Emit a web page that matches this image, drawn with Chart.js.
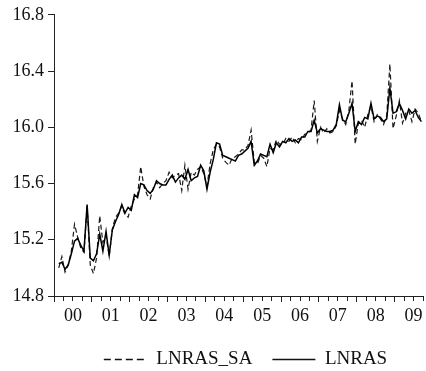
<!DOCTYPE html>
<html>
<head>
<meta charset="utf-8">
<script src="https://cdn.jsdelivr.net/npm/chart.js@4.4.1/dist/chart.umd.min.js"></script>
<style>
  html, body { margin: 0; padding: 0; background: #ffffff; }
  #wrap { width: 426px; height: 371px; position: relative; }
</style>
</head>
<body>
<div id="wrap"><canvas id="c" width="426" height="371"></canvas></div>
<script>
// Monthly observations, first one is 2000M02 (month index 1, counted from 2000M01 = 0)
const startMonthIndex = 1;

const yearLabels = ['00', '01', '02', '03', '04', '05', '06', '07', '08', '09'];

const lnrasSA = [
  15.00, 15.08, 14.97, 15.02, 15.12, 15.31, 15.22, 15.14, 15.11, 15.44,
  15.02, 14.96, 15.07, 15.37, 15.18, 15.23, 15.08, 15.28, 15.36, 15.39,
  15.44, 15.38, 15.36, 15.44, 15.49, 15.52, 15.72, 15.58, 15.52, 15.49,
  15.57, 15.61, 15.57, 15.60, 15.62, 15.68, 15.64, 15.66, 15.67, 15.55,
  15.73, 15.56, 15.68, 15.66, 15.70, 15.72, 15.67, 15.58, 15.74, 15.84,
  15.88, 15.86, 15.78, 15.75, 15.73, 15.78, 15.79, 15.81, 15.84, 15.84,
  15.87, 15.98, 15.75, 15.74, 15.80, 15.78, 15.72, 15.85, 15.84, 15.91,
  15.88, 15.88, 15.92, 15.90, 15.93, 15.89, 15.92, 15.91, 15.95, 15.96,
  15.98, 16.19, 15.90, 16.00, 15.96, 15.99, 15.96, 15.97, 16.01, 16.12,
  16.06, 16.02, 16.12, 16.33, 15.88, 16.03, 16.05, 16.00, 16.09, 16.15,
  16.04, 16.09, 16.06, 16.02, 16.08, 16.45, 15.99, 16.08, 16.19, 16.03,
  16.10, 16.12, 16.04, 16.13, 16.10, 16.04
];

const lnras = [
  15.03, 15.04, 14.99, 15.02, 15.10, 15.19, 15.21, 15.16, 15.12, 15.45,
  15.07, 15.05, 15.10, 15.24, 15.12, 15.26, 15.09, 15.27, 15.33, 15.38,
  15.45, 15.39, 15.43, 15.41, 15.52, 15.50, 15.60, 15.59, 15.55, 15.53,
  15.56, 15.62, 15.60, 15.59, 15.59, 15.63, 15.66, 15.61, 15.64, 15.66,
  15.63, 15.70, 15.62, 15.64, 15.65, 15.73, 15.69, 15.56, 15.68, 15.77,
  15.89, 15.88, 15.80, 15.79, 15.78, 15.77, 15.76, 15.80, 15.81, 15.83,
  15.85, 15.90, 15.73, 15.76, 15.81, 15.80, 15.79, 15.88, 15.82, 15.89,
  15.86, 15.90, 15.89, 15.92, 15.90, 15.91, 15.89, 15.93, 15.93, 15.97,
  15.97, 16.05, 15.96, 15.99, 15.98, 15.97, 15.97, 15.98, 16.02, 16.16,
  16.05, 16.04, 16.10, 16.17, 15.97, 16.04, 16.02, 16.07, 16.06, 16.17,
  16.06, 16.08, 16.07, 16.04, 16.06, 16.28, 16.10, 16.11, 16.17, 16.12,
  16.06, 16.13, 16.10, 16.12, 16.07, 16.04
];

// x value of each observation: middle of its month
function toPoints(values) {
  return values.map((v, k) => ({ x: startMonthIndex + k + 0.5, y: v }));
}

const serif = "'Liberation Serif', 'DejaVu Serif', 'Times New Roman', serif";

// nudges the legend box a little to the right, as in the original layout
const legendNudge = {
  id: 'legendNudge',
  afterLayout(chart) {
    if (chart.legend) {
      chart.legend.left += 7;
      chart.legend.right += 7;
    }
  }
};

new Chart(document.getElementById('c'), {
  type: 'line',
  data: {
    datasets: [
      {
        label: 'LNRAS_SA',
        data: toPoints(lnrasSA),
        borderColor: '#1a1a1a',
        backgroundColor: '#1a1a1a',
        borderWidth: 1.2,
        borderDash: [5, 3],
        pointRadius: 0,
        tension: 0,
        order: 1
      },
      {
        label: 'LNRAS',
        data: toPoints(lnras),
        borderColor: '#000000',
        backgroundColor: '#000000',
        borderWidth: 1.5,
        pointRadius: 0,
        tension: 0,
        order: 0
      }
    ]
  },
  plugins: [legendNudge],
  options: {
    responsive: false,
    animation: false,
    devicePixelRatio: 1,
    layout: { padding: { top: 12, right: 0, bottom: -8, left: 0 } },
    plugins: {
      tooltip: { enabled: false },
      legend: {
        position: 'bottom',
        fullSize: false,
        labels: {
          usePointStyle: true,
          pointStyle: 'line',
          pointStyleWidth: 43,
          boxHeight: 19,
          padding: 20,
          color: '#111',
          font: { family: serif, size: 19 },
          sort: (a, b) => a.datasetIndex - b.datasetIndex,
          generateLabels: (chart) => {
            const items = Chart.defaults.plugins.legend.labels.generateLabels(chart);
            items.forEach((it) => {
              const ds = chart.data.datasets[it.datasetIndex];
              it.lineDash = ds.borderDash ? [7, 4] : [];
              it.lineWidth = 1.3;
              it.strokeStyle = '#111';
              it.fillStyle = '#111';
              it.pointStyle = 'line';
            });
            return items;
          }
        }
      }
    },
    scales: {
      x: {
        type: 'linear',
        min: 0,
        max: 117,
        afterFit: (scale) => { scale.height = 34; },
        border: { display: true, color: '#222', width: 1 },
        grid: {
          display: true,
          drawOnChartArea: false,
          drawTicks: true,
          tickLength: 6,
          tickColor: '#222',
          tickWidth: 1,
          tickBorderDash: (ctx) => (ctx.tick && ctx.tick.value % 12 === 0) ? [] : [4, 20]
        },
        ticks: {
          stepSize: 3,
          autoSkip: false,
          maxRotation: 0,
          minRotation: 0,
          padding: 3,
          color: '#111',
          font: { family: serif, size: 18 },
          callback: (v) => (v % 12 === 6) ? yearLabels[(v - 6) / 12] : ''
        }
      },
      y: {
        type: 'linear',
        min: 14.8,
        max: 16.8,
        afterFit: (scale) => { scale.width = 54; },
        border: { display: true, color: '#222', width: 1 },
        grid: {
          display: true,
          drawOnChartArea: false,
          drawTicks: true,
          tickLength: 6,
          tickColor: '#222'
        },
        ticks: {
          stepSize: 0.4,
          padding: 4,
          color: '#111',
          font: { family: serif, size: 18 },
          callback: (v) => Number(v).toFixed(1)
        }
      }
    }
  }
});
</script>
</body>
</html>
